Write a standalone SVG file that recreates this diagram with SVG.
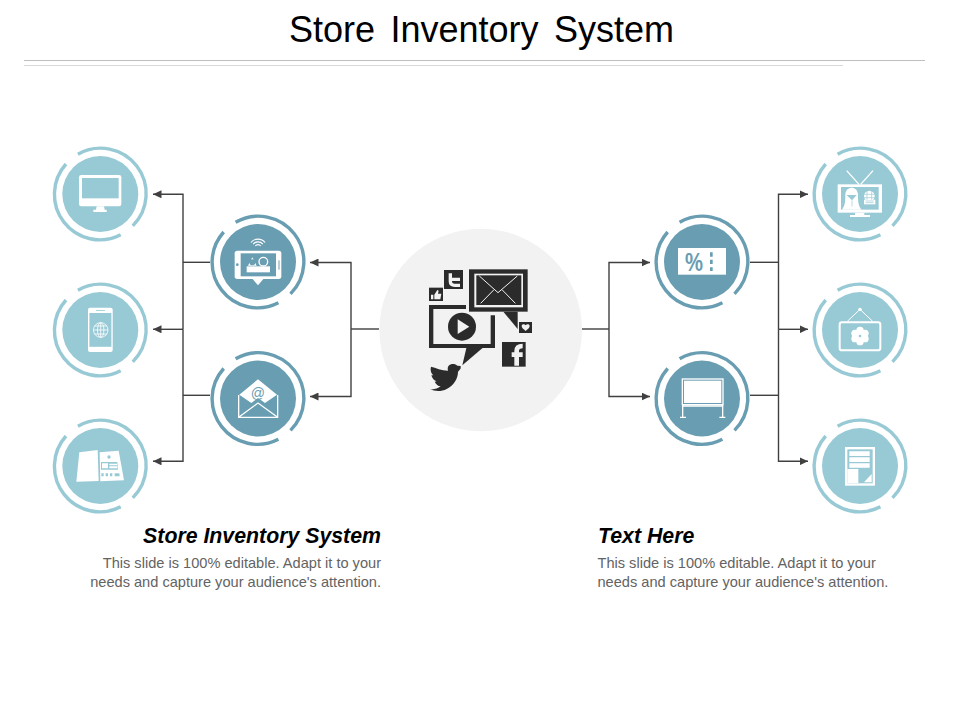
<svg xmlns="http://www.w3.org/2000/svg" width="960" height="720" viewBox="0 0 960 720">
<style>
text{font-family:"Liberation Sans",Arial,sans-serif}
.title{font-size:36px;fill:#000;text-anchor:middle;word-spacing:5.5px}
.sub{font-size:21.3px;font-weight:bold;font-style:italic;fill:#000}
.body{font-size:14.6px;fill:#636363}
.end{text-anchor:end}
.conn{fill:none;stroke:#404040;stroke-width:1.4}
.outer{color:#98cad6}
.mid{color:#699db2}
.disc{fill:currentColor}
.w{fill:#fff}
.c{fill:currentColor}
.ws{fill:none;stroke:#fff}
.cs{fill:none;stroke:currentColor}
.d{fill:#2b2b2b}
.g{fill:#f2f2f2}
.gs{fill:none;stroke:#f2f2f2}
</style>
<defs>
<marker id="arrow" markerUnits="userSpaceOnUse" markerWidth="9" markerHeight="8" refX="8.5" refY="4" orient="auto">
<path d="M0 0L8.5 4L0 8Z" fill="#404040"/>
</marker>
<g id="ring" fill="none" stroke="currentColor" stroke-width="3.4">
<path d="M-22.4 -39.7A45.5 45.5 0 0 1 32.5 31.9"/>
<path d="M20.4 40.8A45.5 45.5 0 0 1 -34.3 -30"/>
</g>
</defs>
<rect width="960" height="720" fill="#fff"/>
<text class="title" x="481.5" y="41.5">Store Inventory System</text>
<path d="M24 60.5H925" stroke="#bfbfbf" stroke-width="1" fill="none"/>
<path d="M24 65.5H843" stroke="#d9d9d9" stroke-width="1" fill="none"/>

<g id="connectors">
<path class="conn" d="M379 329H351"/>
<path class="conn" marker-end="url(#arrow)" d="M351 329V262.5H310"/>
<path class="conn" marker-end="url(#arrow)" d="M351 329V396.5H310"/>
<path class="conn" d="M210 262.3H183"/>
<path class="conn" d="M210 395.3H183"/>
<path class="conn" marker-end="url(#arrow)" d="M183 329.3V194.3H153"/>
<path class="conn" marker-end="url(#arrow)" d="M183 329.3H153"/>
<path class="conn" marker-end="url(#arrow)" d="M183 329.3V461.3H153"/>
<path class="conn" d="M582 329H609"/>
<path class="conn" marker-end="url(#arrow)" d="M609 329V262.5H650"/>
<path class="conn" marker-end="url(#arrow)" d="M609 329V396.5H650"/>
<path class="conn" d="M750 262.3H778.5"/>
<path class="conn" d="M750 395.3H778.5"/>
<path class="conn" marker-end="url(#arrow)" d="M778.5 329.3V194.3H808"/>
<path class="conn" marker-end="url(#arrow)" d="M778.5 329.3H808"/>
<path class="conn" marker-end="url(#arrow)" d="M778.5 329.3V461.3H808"/>
</g>

<g id="node-center">
<circle cx="480.7" cy="330" r="101.3" class="g"/>
<g transform="translate(370 220) scale(.33333)">
<rect x="297" y="148" width="176" height="127" class="d"/>
<rect x="313" y="161" width="146" height="101" class="g"/>
<rect x="319" y="166" width="135" height="89" class="d"/>
<path d="M328 168L384 218L442 168M332 250L372 209M436 250L396 209" class="gs" stroke-width="3"/>
<path d="M400 275L443 327V275Z" class="d"/>
<path d="M288 255H177V384H375V286H362V372H190V267H288Z" class="d"/>
<path d="M290 380L277 436L342 380Z" class="d"/>
<circle cx="276" cy="320" r="42" class="d"/>
<path d="M263 298L298 320L263 342Z" class="g"/>
<rect x="222" y="150" width="57" height="57" class="d"/>
<path d="M241 160V184Q241 196 254 196H270M241 178H270" class="gs" stroke-width="10"/>
<rect x="177" y="203" width="42" height="40" class="d"/>
<path d="M183 224H190V238H183ZM193 224L202 210L206 212L204 221H214L211 238H193Z" class="g"/>
<rect x="447" y="306" width="39" height="33" class="d"/>
<path d="M467 333C460 327 455 323 455 318C455 313 463 311 467 316C471 311 479 313 479 318C479 323 474 327 467 333Z" class="g"/>
<rect x="396" y="366" width="71" height="74" class="d"/>
<path d="M440 437V393Q440 378 458 378M425 404H458" class="gs" stroke-width="14"/>
<path class="d" d="M272 438L262 437C256 430 242 430 236 437C232 442 233 447 234 452C215 452 197 443 183 440C180 450 183 460 190 466L184 466C186 475 193 482 200 484L194 485C198 493 204 498 212 499C204 506 193 509 181 508C195 515 215 515 230 507C252 496 264 475 264 455C268 452 271 447 272 445Z"/>
</g>
</g>

<g id="node-monitor" class="outer">
<use href="#ring" x="100.3" y="194"/>
<circle cx="100.3" cy="194" r="38" class="disc"/>
<g transform="translate(40 135) scale(.33333)">
<rect x="117" y="120" width="127" height="94" rx="7" class="w"/>
<rect x="126" y="129" width="110" height="61" class="c"/>
<path d="M170 214H192L194 224H200V231H160V224H168Z" class="w"/>
</g>
</g>

<g id="node-phone" class="outer">
<use href="#ring" x="100.3" y="330"/>
<circle cx="100.3" cy="330" r="38" class="disc"/>
<rect x="88" y="307.7" width="24.7" height="44.3" rx="2" class="w"/>
<rect x="89.4" y="313" width="22" height="33.8" class="c"/>
<path d="M96 310.5H105" stroke="currentColor" stroke-width=".8" fill="none"/>
<g class="ws" stroke-width=".8">
<circle cx="100.7" cy="330" r="7.3"/>
<ellipse cx="100.7" cy="330" rx="3.2" ry="7.3"/>
<path d="M93.4 330H108M94.6 326H106.8M94.6 334H106.8M100.7 322.7V337.3"/>
</g>
</g>

<g id="node-magazine" class="outer">
<use href="#ring" x="100.3" y="466"/>
<circle cx="100.3" cy="466" r="38" class="disc"/>
<g transform="translate(40 320) scale(.33333)">
<path d="M118 397L173 390L176 483L109 485Z" class="w"/>
<path d="M179 397L236 392L252 481L181 484Z" class="w"/>
<circle cx="207" cy="411" r="5" class="c"/>
<path d="M183 426H232L234 449H183Z" class="c"/>
<path d="M186 430H204V445H186ZM208 431H231V436H208ZM208 439H232V445H208Z" class="w"/>
<path d="M184 460H191V469H184ZM197 460H204V469H197ZM210 460H217V469H210ZM224 460H238L239 469H224Z" class="c"/>
</g>
</g>

<g id="node-social-phone" class="mid">
<use href="#ring" x="258" y="262"/>
<circle cx="258" cy="262" r="38" class="disc"/>
<g transform="translate(40 135) scale(.33333)">
<rect x="584" y="347" width="140" height="85" rx="8" class="w"/>
<rect x="602" y="355" width="106" height="69" class="c"/>
<path d="M636 430L654 451L672 430Z" class="w"/>
<circle cx="592" cy="389" r="4" class="c"/>
<path d="M717 376V404" class="cs" stroke-width="3"/>
<path d="M620 394H690V412H620Z" class="w"/>
<path d="M624 392L637 367L650 392Z" class="w"/>
<circle cx="637" cy="382" r="9" class="c"/>
<circle cx="670" cy="380" r="13" class="ws" stroke-width="4"/>
<path d="M632.8 322.5A27 27 0 0 1 675.2 322.5M639.5 327.5A19 19 0 0 1 668.5 327.5M646 333A10 10 0 0 1 662 333" class="ws" stroke-width="3.5"/>
</g>
</g>

<g id="node-email" class="mid">
<use href="#ring" x="258" y="398.5"/>
<circle cx="258" cy="398.5" r="38" class="disc"/>
<g transform="translate(40 320) scale(.33333)">
<path d="M598 224L654 178L711 224L675 249L654 234L634 249Z" class="w"/>
<path d="M596 225V292H713V225M596 292L654 249L713 292" class="ws" stroke-width="4"/>
</g>
<text x="257.8" y="397.5" text-anchor="middle" style="font-size:14px;fill:#699db2">@</text>
</g>

<g id="node-ticket" class="mid">
<use href="#ring" x="702" y="262"/>
<circle cx="702" cy="262" r="38" class="disc"/>
<g transform="translate(640 135) scale(.33333)">
<rect x="114" y="339" width="144" height="80" class="w"/>
<path d="M210 352H218V365H210ZM210 374H218V387H210ZM210 397H218V408H210Z" class="c"/>
</g>
<text x="685" y="270.5" textLength="18" lengthAdjust="spacingAndGlyphs" style="font-size:25px;font-weight:bold;fill:#699db2">%</text>
</g>

<g id="node-board" class="mid">
<use href="#ring" x="702" y="398.5"/>
<circle cx="702" cy="398.5" r="38" class="disc"/>
<g transform="translate(640 320) scale(.33333)">
<rect x="127" y="177" width="122" height="77" class="ws" stroke-width="4"/>
<rect x="132" y="182" width="112" height="67" class="w"/>
<path d="M128 254V292M248 254V292M128 258H248M120 292H138M238 292H256" class="ws" stroke-width="4"/>
</g>
</g>

<g id="node-tv" class="outer">
<use href="#ring" x="860" y="194"/>
<circle cx="860" cy="194" r="38" class="disc"/>
<g transform="translate(640 135) scale(.33333)">
<path d="M620 107L657 148M699 107L662 148" class="ws" stroke-width="4"/>
<rect x="593" y="148" width="133" height="85" class="w"/>
<rect x="603" y="156" width="113" height="68" class="c"/>
<path d="M645 233H673V240H690V246H630V240H645Z" class="w"/>
<path d="M606 224C616 210 616 198 616 178C618 152 652 152 654 178C654 198 654 210 664 224Z" class="w"/>
<path d="M620 180H650L636 196Z" class="c"/>
<path d="M636 196V214" class="cs" stroke-width="2"/>
<circle cx="688" cy="183" r="16" class="w"/>
<path d="M672 178H704M672 188H704M681 167V199M695 167V199" class="cs" stroke-width="2"/>
<rect x="672" y="194" width="34" height="14" class="w"/>
<path d="M677 198H701M677 203H701" class="cs" stroke-width="2"/>
</g>
</g>

<g id="node-sign" class="outer">
<use href="#ring" x="860" y="330"/>
<circle cx="860" cy="330" r="38" class="disc"/>
<g transform="translate(810 280) scale(.33333)">
<path d="M112 124L150 88L188 124" class="ws" stroke-width="3"/>
<circle cx="150" cy="88" r="5" class="w"/>
<rect x="89" y="127" width="122" height="84" rx="7" class="ws" stroke-width="6"/>
<circle cx="150" cy="151" r="11" class="w"/>
<circle cx="150" cy="185" r="11" class="w"/>
<circle cx="135" cy="160" r="11" class="w"/>
<circle cx="165" cy="160" r="11" class="w"/>
<circle cx="135" cy="176" r="11" class="w"/>
<circle cx="165" cy="176" r="11" class="w"/>
<circle cx="150" cy="168" r="8" class="w"/>
<circle cx="150" cy="168" r="4" class="c"/>
</g>
</g>

<g id="node-document" class="outer">
<use href="#ring" x="860" y="466"/>
<circle cx="860" cy="466" r="38" class="disc"/>
<g transform="translate(640 320) scale(.33333)">
<rect x="615" y="381" width="90" height="116" class="w"/>
<rect x="622" y="388" width="76" height="102" class="c"/>
<path d="M628 394H689V408H628ZM628 412H689V426H628ZM628 430H689V443H628ZM622 447H655V490H622ZM695 462V487H672Z" class="w"/>
</g>
</g>

<g id="caption-left">
<text class="sub end" x="381" y="543">Store Inventory System</text>
<text class="body end" x="381" y="568">This slide is 100% editable. Adapt it to your</text>
<text class="body end" x="381" y="587">needs and capture your audience's attention.</text>
</g>
<g id="caption-right">
<text class="sub" x="598" y="543">Text Here</text>
<text class="body" x="597.5" y="568">This slide is 100% editable. Adapt it to your</text>
<text class="body" x="597.5" y="587">needs and capture your audience's attention.</text>
</g>
</svg>
